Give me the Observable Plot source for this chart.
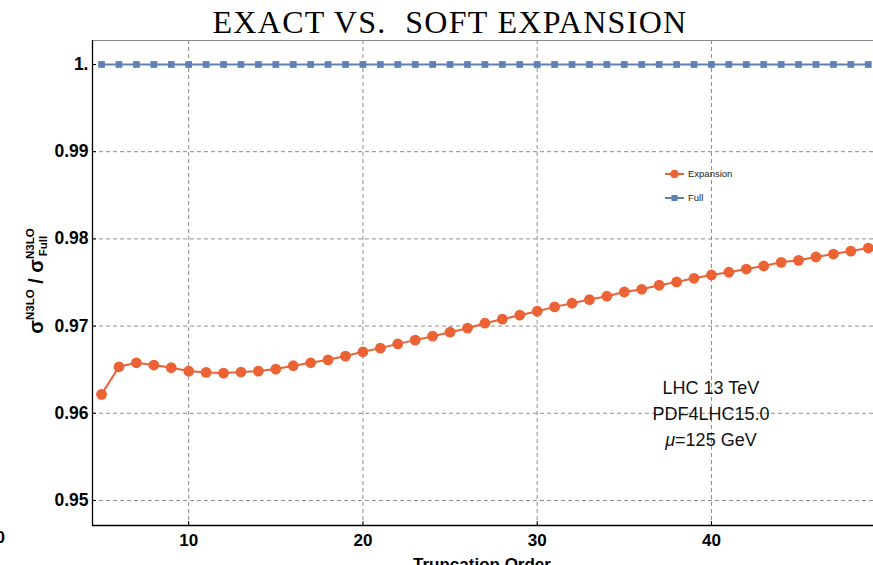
<!DOCTYPE html>
<html>
<head>
<meta charset="utf-8">
<script src="https://cdn.jsdelivr.net/npm/d3@7"></script>
<script src="https://cdn.jsdelivr.net/npm/@observablehq/plot@0.6"></script>
<style>
  html, body { margin: 0; padding: 0; overflow: hidden; background: #fff; width: 873px; height: 565px; }
  #chart svg { display: block; }
</style>
</head>
<body>
<div id="chart"></div>
<script>
// Truncation orders of the soft expansion
const orders = [5, 6, 7, 8, 9, 10, 11, 12, 13, 14, 15, 16, 17, 18, 19, 20, 21, 22, 23, 24, 25, 26, 27,
  28, 29, 30, 31, 32, 33, 34, 35, 36, 37, 38, 39, 40, 41, 42, 43, 44, 45, 46, 47, 48, 49];

// sigma_N3LO (expansion truncated at a given order) / sigma_N3LO (full)
const expansionRatio = [0.96217, 0.96533, 0.96579, 0.96553, 0.96522, 0.96484, 0.96469, 0.96461,
  0.96473, 0.96484, 0.96507, 0.96545, 0.96579, 0.96613, 0.96656, 0.96705, 0.96747, 0.96796,
  0.96839, 0.96884, 0.96930, 0.96976, 0.97033, 0.97079, 0.97125, 0.97170, 0.97220, 0.97262,
  0.97304, 0.97342, 0.97391, 0.97422, 0.97468, 0.97506, 0.97548, 0.97586, 0.97617, 0.97654,
  0.97689, 0.97731, 0.97754, 0.97792, 0.97826, 0.97860, 0.97895];

// The full result normalised to itself
const fullRatio = [1, 1, 1, 1, 1, 1, 1, 1, 1, 1, 1, 1, 1, 1, 1, 1, 1, 1, 1, 1, 1, 1, 1,
  1, 1, 1, 1, 1, 1, 1, 1, 1, 1, 1, 1, 1, 1, 1, 1, 1, 1, 1, 1, 1, 1];

const xTicks = [10, 20, 30, 40];
const yTicks = [0.95, 0.96, 0.97, 0.98, 0.99, 1];
const yTickLabels = ["0.95", "0.96", "0.97", "0.98", "0.99", "1."];

const seriesNames = ["Expansion", "Full"];
const annotationLines = ["LHC 13 TeV", "PDF4LHC15.0", "125 GeV"];

const ORANGE = "#EB6235";
const BLUE = "#5E81B5";
const GRID = "#8c8c8c";
const SANS = "'Liberation Sans', Arial, sans-serif";

const xDomain = [4.48, 49.3];
const yDomain = [0.94713, 1.00275];

const expansion = orders.map((n, i) => ({order: n, ratio: expansionRatio[i]}));
const full = orders.map((n, i) => ({order: n, ratio: fullRatio[i]}));

const dash = "4,3";
const tickLenX = 4 / 17.43;   // short inward tick marks, in data units
const tickLenY = 4 / 8740;

const plot = Plot.plot({
  width: 873,
  height: 585,
  marginTop: 40,
  marginLeft: 92,
  marginRight: 0,
  marginBottom: 60,
  style: {fontFamily: SANS, background: "#fff", overflow: "visible", color: "#000"},
  x: {domain: xDomain, label: null},
  y: {domain: yDomain, label: null},
  marks: [
    Plot.gridX(xTicks, {stroke: GRID, strokeOpacity: 1, strokeDasharray: dash, strokeWidth: 1}),
    Plot.gridY(yTicks.slice(0, 5), {stroke: GRID, strokeOpacity: 1, strokeDasharray: dash, strokeWidth: 1}),
    // frame: gray top edge, black left and bottom axes
    Plot.ruleY([yDomain[1]], {stroke: "#888", strokeWidth: 1.2}),
    Plot.ruleX([xDomain[0]], {stroke: "#000", strokeWidth: 1.3}),
    Plot.ruleY([yDomain[0]], {stroke: "#000", strokeWidth: 1.3}),
    Plot.ruleX(xTicks, {y1: yDomain[0], y2: yDomain[0] + tickLenY, stroke: "#000"}),
    Plot.ruleY(yTicks, {x1: xDomain[0], x2: xDomain[0] + tickLenX, stroke: "#000"}),
    Plot.axisX(xTicks, {tickSize: 0, tickPadding: 8, fontSize: 17, fontWeight: "bold", fontFamily: SANS, label: null}),
    Plot.axisY(yTicks, {tickSize: 0, tickPadding: 4, fontSize: 17.5, fontWeight: "bold", fontFamily: SANS,
      tickFormat: (d) => yTickLabels[yTicks.indexOf(d)], label: null}),
    // full result
    Plot.line(full, {x: "order", y: "ratio", stroke: BLUE, strokeWidth: 2}),
    Plot.dot(full, {x: "order", y: "ratio", symbol: "square", fill: BLUE, r: 3.8}),
    // soft expansion
    Plot.line(expansion, {x: "order", y: "ratio", stroke: ORANGE, strokeWidth: 2}),
    Plot.dot(expansion, {x: "order", y: "ratio", fill: ORANGE, r: 5.4})
  ]
});

document.getElementById("chart").append(plot);

const svg = d3.select(plot);
const sx = plot.scale("x");

// Title
svg.append("text")
  .attr("x", 450).attr("y", 33)
  .attr("text-anchor", "middle")
  .attr("font-family", "'Liberation Serif', 'Times New Roman', serif")
  .attr("font-size", 32)
  .attr("letter-spacing", 1.3)
  .attr("fill", "#000")
  .style("white-space", "pre")
  .text("EXACT VS.  SOFT EXPANSION");

// x-axis title
svg.append("text")
  .attr("x", 482).attr("y", 570)
  .attr("text-anchor", "middle")
  .attr("font-family", SANS).attr("font-weight", "bold").attr("font-size", 17)
  .text("Truncation Order");

// stray label at the lower-left edge
svg.append("text")
  .attr("x", 5).attr("y", 543)
  .attr("text-anchor", "end")
  .attr("font-family", SANS).attr("font-weight", "bold").attr("font-size", 17)
  .text("0");

// y-axis title: sigma^N3LO / sigma^N3LO_Full
const yl = svg.append("text")
  .attr("transform", "translate(43,281) rotate(-90)")
  .attr("text-anchor", "middle")
  .attr("font-family", SANS).attr("font-weight", "bold").attr("font-size", 20)
  .attr("fill", "#000");
yl.append("tspan").text("σ");
yl.append("tspan").attr("font-size", 11.5).attr("dy", -9.5).text("N3LO");
yl.append("tspan").attr("dy", 9.5).text(" / σ");
const supW = 28;
yl.append("tspan").attr("font-size", 11.5).attr("dy", -9.5).text("N3LO");
yl.append("tspan").attr("font-size", 11.5).attr("dx", -supW).attr("dy", 13.5).text("Full");

// legend
const legend = svg.append("g").attr("font-family", SANS).attr("font-size", 9.5).attr("text-anchor", "start");
[[ORANGE, "circle", 174], [BLUE, "square", 198]].forEach(([color, shape, y], i) => {
  legend.append("line").attr("x1", 665).attr("x2", 684).attr("y1", y).attr("y2", y)
    .attr("stroke", color).attr("stroke-width", 2);
  if (shape === "circle") {
    legend.append("circle").attr("cx", 674.5).attr("cy", y).attr("r", 4.3).attr("fill", color);
  } else {
    legend.append("rect").attr("x", 671.5).attr("y", y - 3).attr("width", 6).attr("height", 6).attr("fill", color);
  }
  legend.append("text").attr("x", 688).attr("y", y + 3.3).attr("fill", "#222").text(seriesNames[i]);
});

// run conditions
const ax = sx.apply(40);
const ann = svg.append("g").attr("font-family", SANS).attr("font-size", 18)
  .attr("text-anchor", "middle").attr("fill", "#111");
ann.append("text").attr("x", ax).attr("y", 394).text(annotationLines[0]);
ann.append("text").attr("x", ax).attr("y", 420).text(annotationLines[1]);
const mu = ann.append("text").attr("x", ax).attr("y", 446);
mu.append("tspan").attr("font-style", "italic").text("μ");
mu.append("tspan").text("=" + annotationLines[2]);
</script>
</body>
</html>
